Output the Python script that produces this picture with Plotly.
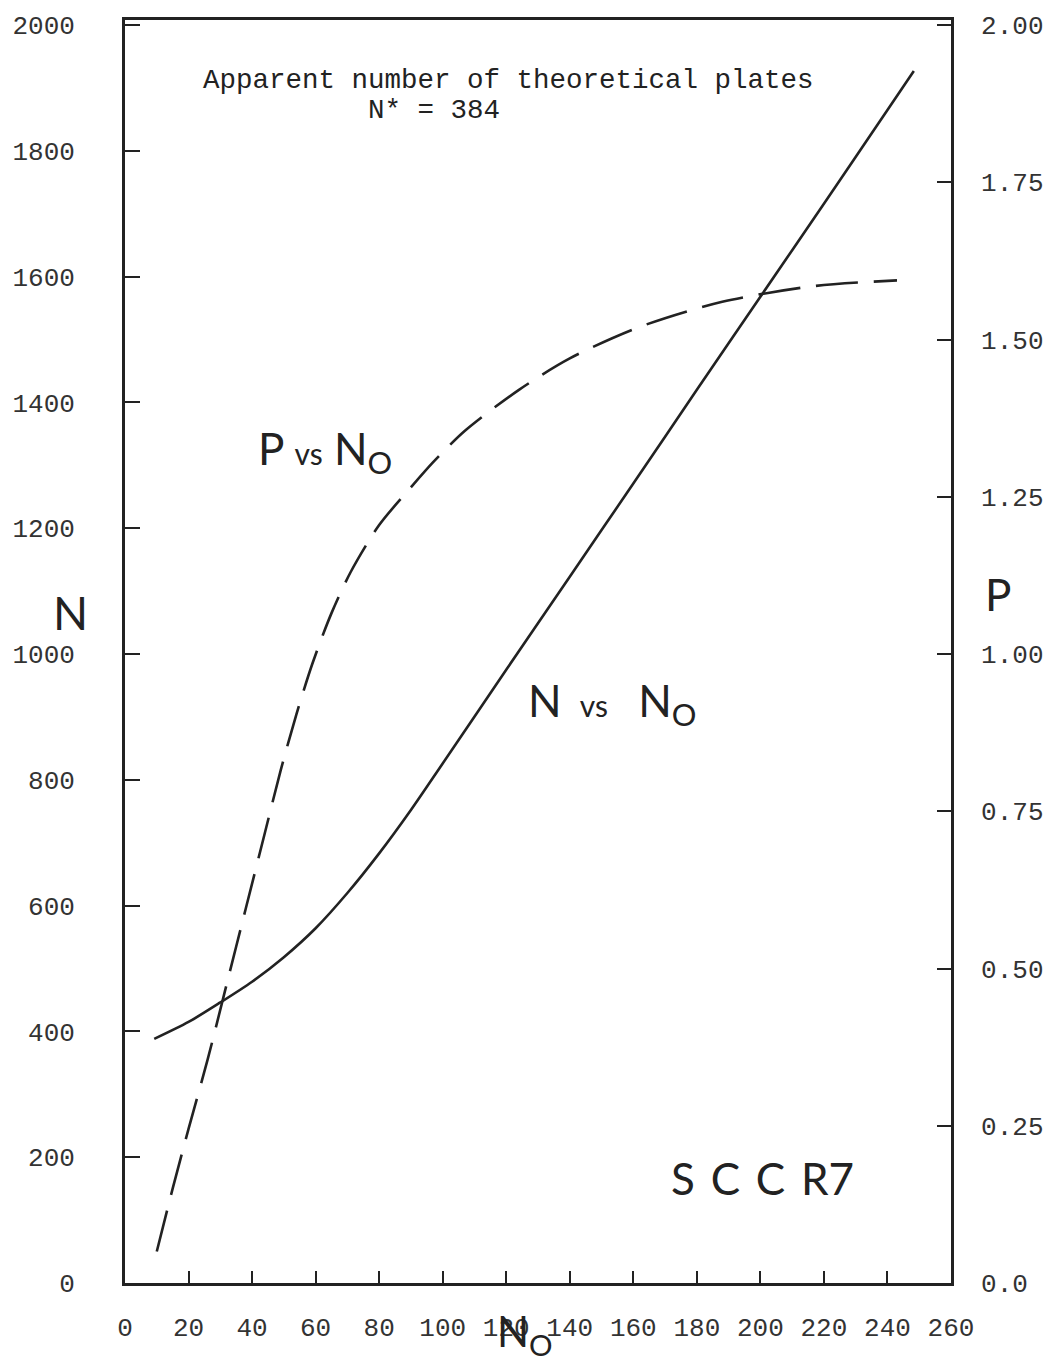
import plotly.graph_objects as go

# ---- data ----
no_solid = [9.2, 20, 30, 40, 50, 60, 70, 80, 90, 100, 120, 140, 160, 180, 200, 220, 240, 248.3]
n_solid = [388, 415, 446, 479, 518, 564, 620, 683, 752, 826, 975, 1123, 1271, 1420, 1568, 1716, 1865, 1927]

no_dash = [10, 15, 20, 26, 32, 38, 44, 49, 54, 59, 65, 71, 80, 90, 97, 107, 124, 140, 162, 188, 217, 243]
p_dash = [0.05, 0.15, 0.245, 0.355, 0.475, 0.595, 0.715, 0.815, 0.905, 0.985, 1.065, 1.13, 1.205,
          1.265, 1.305, 1.355, 1.42, 1.47, 1.52, 1.56, 1.585, 1.594]

x_ticks = list(range(0, 261, 20))
y_ticks = list(range(0, 2001, 200))
p_ticks = [0, 0.25, 0.5, 0.75, 1.0, 1.25, 1.5, 1.75, 2.0]
p_tick_text = ["0.0", "0.25", "0.50", "0.75", "1.00", "1.25", "1.50", "1.75", "2.00"]

INK = "#222222"
MONO = "Liberation Mono, Courier New, monospace"
SANS = "Lato, Open Sans, sans-serif"

fig = go.Figure()
fig.add_trace(go.Scatter(x=no_solid, y=n_solid, mode="lines",
                         line=dict(color=INK, width=2.6, shape="spline", smoothing=0.8),
                         showlegend=False, hoverinfo="skip"))
fig.add_trace(go.Scatter(x=no_dash, y=p_dash, mode="lines", yaxis="y2",
                         line=dict(color=INK, width=2.6, dash="42px,16px", shape="spline", smoothing=0.8),
                         showlegend=False, hoverinfo="skip"))

W, H = 1056, 1362
L, R, T, B = 123, 98, 12, 79

fig.update_layout(
    width=W, height=H,
    margin=dict(l=L, r=R, t=T, b=B),
    paper_bgcolor="white", plot_bgcolor="white",
    xaxis=dict(range=[0, 260], tickvals=x_ticks, ticks="inside", ticklen=12, tickwidth=2,
               tickcolor=INK, showline=True, linecolor=INK, linewidth=2.8, mirror=True,
               showgrid=False, zeroline=False, ticklabelstandoff=19,
               tickfont=dict(family=MONO, size=26, color="#333333")),
    yaxis=dict(range=[0, 2008], tickvals=y_ticks, ticks="inside", ticklen=15, tickwidth=2,
               tickcolor=INK, showline=True, linecolor=INK, linewidth=2.8,
               showgrid=False, zeroline=False, ticklabelstandoff=42,
               tickfont=dict(family=MONO, size=26, color="#333333")),
    yaxis2=dict(range=[0, 2.008], tickvals=p_ticks, ticktext=p_tick_text, overlaying="y",
                side="right", ticks="inside", ticklen=14, tickwidth=2, tickcolor=INK,
                showline=True, linecolor=INK, linewidth=2.8, showgrid=False, zeroline=False,
                ticklabelstandoff=22,
                tickfont=dict(family=MONO, size=26, color="#333333")),
)

pw = W - L - R
ph = H - T - B


def px(x):
    return (x - L) / pw


def py(y):
    return (H - B - y) / ph


def note(text, x, y, size, family=SANS, xanchor="center"):
    fig.add_annotation(text=text, x=px(x), y=py(y), xref="paper", yref="paper",
                       showarrow=False, xanchor=xanchor, yanchor="middle",
                       font=dict(family=family, size=size, color=INK))


note("Apparent number of theoretical plates", 511, 73, 27.5, family=MONO)
note("N* = 384", 435, 103, 27.5, family=MONO)
note("P <span style='font-size:30px'>vs</span> N<sub>O</sub>", 325, 446, 44)
note("N <span style='font-size:30px'> vs </span>  N<sub>O</sub>", 615, 700, 44)
note("<span style='letter-spacing:16px'>SCC</span>R7", 767, 1177, 44)
note("N", 68, 608, 46)
note("P", 1006, 590, 44)
note("N<sub>O</sub>", 527, 1334, 42)

fig.write_html("out.html")
